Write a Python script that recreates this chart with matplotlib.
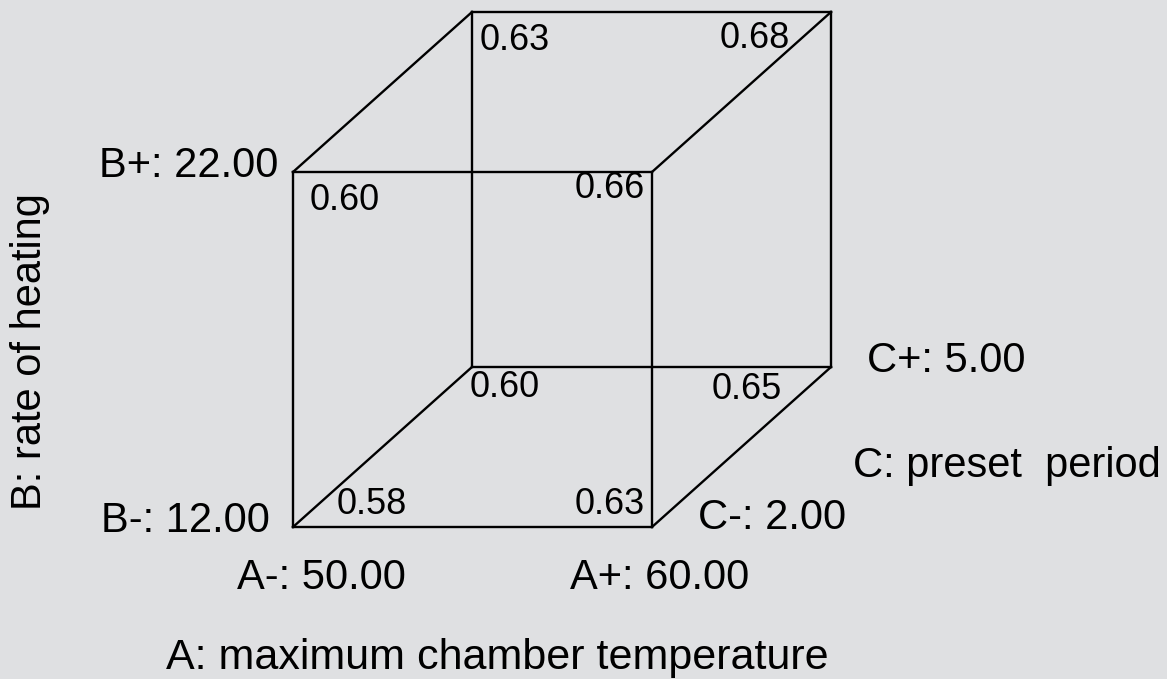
import matplotlib
matplotlib.use("Agg")
import matplotlib.pyplot as plt

plt.rcParams['font.family'] = ['Liberation Sans', 'DejaVu Sans']

# factor levels and names
a_levels = ["A-: 50.00", "A+: 60.00"]
b_levels = ["B-: 12.00", "B+: 22.00"]
c_levels = ["C-: 2.00", "C+: 5.00"]
a_name = "A: maximum chamber temperature"
b_name = "B: rate of heating"
c_name = "C: preset  period"

# mean response at each corner, keyed (a, b, c) with 0 = low, 1 = high
corner_values = {
    (0, 0, 0): 0.58, (1, 0, 0): 0.63,
    (0, 1, 0): 0.60, (1, 1, 0): 0.66,
    (0, 0, 1): 0.60, (1, 0, 1): 0.65,
    (0, 1, 1): 0.63, (1, 1, 1): 0.68,
}

bg = "#dfe0e2"
W, H = 1167, 679
fig = plt.figure(figsize=(W / 100, H / 100), dpi=100, facecolor=bg)
ax = fig.add_axes([0, 0, 1, 1])
ax.set_facecolor(bg)
ax.axis("off")

# unit cube, depth drawn as an oblique offset
sx, sy = 359, 355
depth = (179 / sx, 160 / sy)
ax.set_xlim(-293 / sx, (W - 293) / sx)
ax.set_ylim(-152 / sy, (H - 152) / sy)


def proj(a, b, c):
    return a + c * depth[0], b + c * depth[1]


edges = []
for b in (0, 1):
    for c in (0, 1):
        edges.append(((0, b, c), (1, b, c)))
for a in (0, 1):
    for c in (0, 1):
        edges.append(((a, 0, c), (a, 1, c)))
for a in (0, 1):
    for b in (0, 1):
        edges.append(((a, b, 0), (a, b, 1)))
for p, q in edges:
    x0, y0 = proj(*p)
    x1, y1 = proj(*q)
    ax.plot([x0, x1], [y0, y1], color="black", lw=1.7, solid_capstyle="projecting")

# value labels: pixel offset from corner and alignment
val_style = {
    (0, 0, 0): ((44, 22), "left"), (1, 0, 0): ((-7, 22), "right"),
    (0, 1, 0): ((17, -28), "left"), (1, 1, 0): ((-7, -16), "right"),
    (0, 0, 1): ((-2, -20), "left"), (1, 0, 1): ((-49, -22), "right"),
    (0, 1, 1): ((8, -28), "left"), (1, 1, 1): ((-41, -26), "right"),
}
for key, v in corner_values.items():
    off, ha = val_style[key]
    ax.annotate(f"{v:.2f}", proj(*key), xytext=off, textcoords="offset pixels",
                ha=ha, va="center", fontsize=26)

lab = dict(textcoords="offset pixels", va="center", fontsize=30)
ax.annotate(b_levels[1], proj(0, 1, 0), xytext=(-15, 6), ha="right", **lab)
ax.annotate(b_levels[0], proj(0, 0, 0), xytext=(-23, 6), ha="right", **lab)
ax.annotate(a_levels[0], proj(0, 0, 0), xytext=(28, -51), ha="center", **lab)
ax.annotate(a_levels[1], proj(1, 0, 0), xytext=(8, -51), ha="center", **lab)
ax.annotate(c_levels[0], proj(1, 0, 0), xytext=(46, 9), ha="left", **lab)
ax.annotate(c_levels[1], proj(1, 0, 1), xytext=(36, 6), ha="left", **lab)

ax.text(853 / W, 1 - 466 / H, c_name, transform=fig.transFigure,
        ha="left", va="center", fontsize=30)
ax.text(497 / W, 1 - 658 / H, a_name, transform=fig.transFigure,
        ha="center", va="center", fontsize=31)
ax.text(30 / W, 1 - 352 / H, b_name, transform=fig.transFigure,
        ha="center", va="center", rotation=90, fontsize=30)

fig.savefig("out.png", dpi=100, facecolor=bg)
